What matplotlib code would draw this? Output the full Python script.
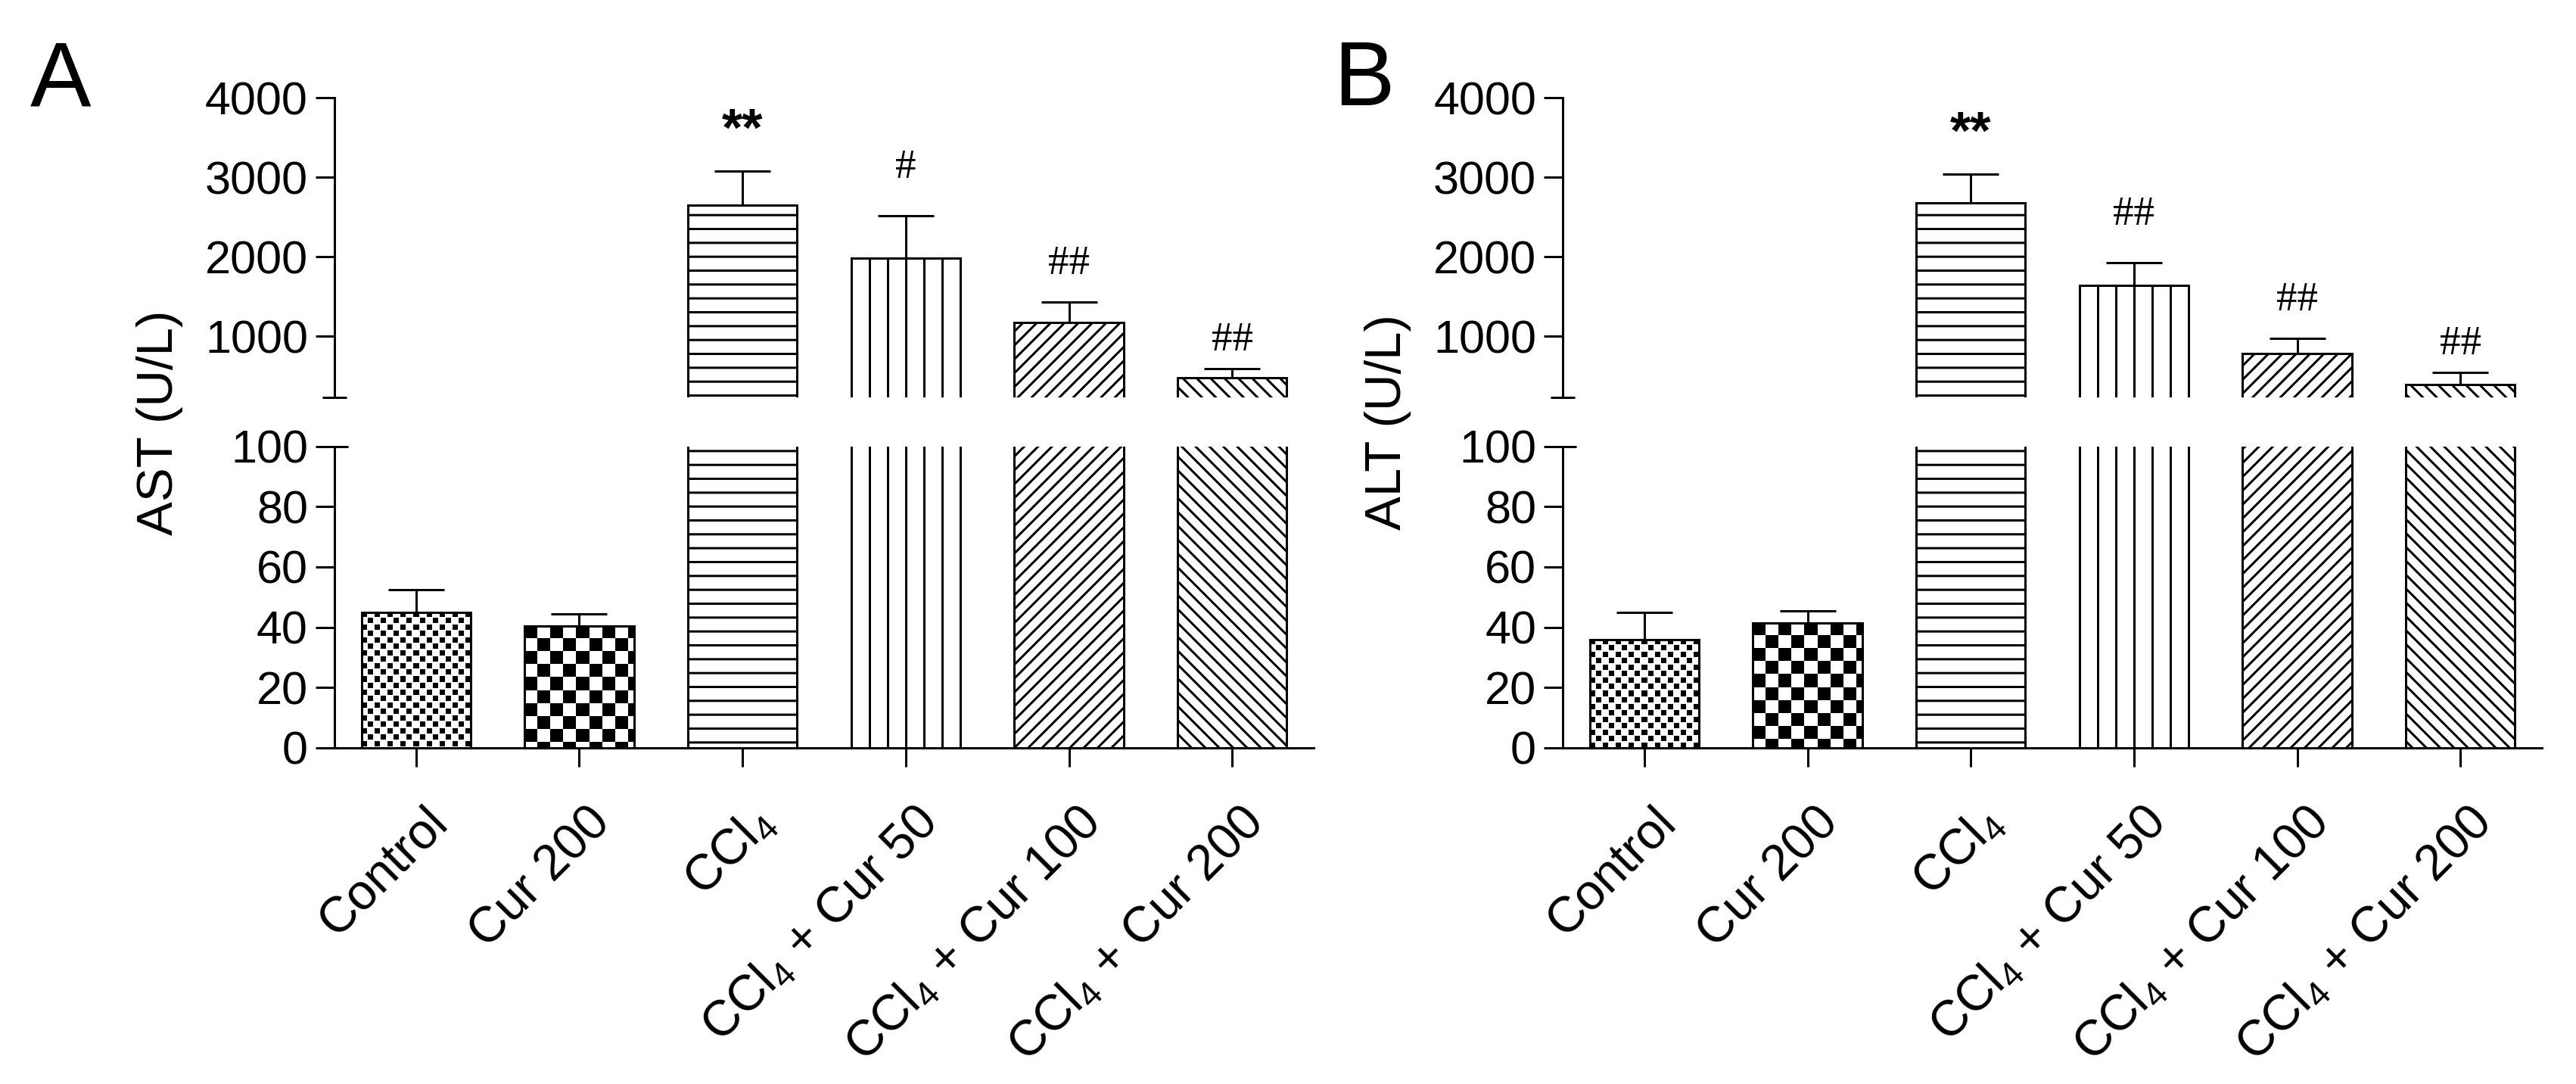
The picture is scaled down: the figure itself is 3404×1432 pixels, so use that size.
import matplotlib

matplotlib.use("Agg")

import matplotlib.pyplot as plt
import matplotlib.transforms as mtransforms
import numpy as np

# ---- data ----
groups = [
    "Control",
    "Cur 200",
    r"CCl$_\mathregular{4}$",
    r"CCl$_\mathregular{4}$ + Cur 50",
    r"CCl$_\mathregular{4}$ + Cur 100",
    r"CCl$_\mathregular{4}$ + Cur 200",
]
ast_mean = [45, 40.5, 2650, 1985, 1170, 480]
ast_sem = [7.5, 3.8, 425, 530, 260, 110]
alt_mean = [36, 41.5, 2680, 1640, 780, 395]
alt_sem = [8.8, 4.0, 360, 280, 190, 145]
ast_marks = ["", "", "**", "#", "##", "##"]
alt_marks = ["", "", "**", "##", "##", "##"]
upper_ticks = [1000, 2000, 3000, 4000]
lower_ticks = [0, 20, 40, 60, 80, 100]

# ---- style ----
DPI = 110
PT = 72.0 / DPI  # points per pixel
LW = 3 * PT
plt.rcParams["font.family"] = ["Liberation Sans", "DejaVu Sans"]
plt.rcParams["mathtext.fontset"] = "custom"
plt.rcParams["mathtext.rm"] = "Liberation Sans"
plt.rcParams["hatch.linewidth"] = LW
plt.rcParams["hatch.color"] = "black"

# fill style per bar: ("check", cell px, fill) / ("hatch", pattern) / ("vstrip", n)
fills = [
    ("check", 8.5, 0.78),
    ("check", 17.0, 1.0),
    ("hatch", "-"),
    ("vstrip", 6),
    ("hatch", "//"),
    ("hatch", "\\\\"),
]
mark_gap_px = [0, 0, 33, 50, 37, 24]
upper_floor = 230

W, H = 3404, 1432
fig = plt.figure(figsize=(W / DPI, H / DPI), dpi=DPI)
fig.patch.set_facecolor("white")


def fx(px):
    return px / W


def fy(px):
    return 1 - px / H


def checker(ax, bar, cell, fill):
    bb = bar.get_window_extent()
    w = max(int(round(bb.width)), 1)
    h = max(int(round(bb.height)), 1)
    yy, xx = np.mgrid[0:h, 0:w] + 0.5
    u = xx / cell
    v = yy / cell
    on = ((np.floor(u) + np.floor(v)) % 2 == 0) & (u % 1 < fill) & (v % 1 < fill)
    img = np.where(on, 0.0, 1.0)
    x0, y0 = bar.get_x(), bar.get_y()
    ax.imshow(
        img,
        cmap="gray",
        vmin=0,
        vmax=1,
        extent=(x0, x0 + bar.get_width(), y0, y0 + bar.get_height()),
        origin="upper",
        aspect="auto",
        interpolation="nearest",
        clip_path=bar,
        zorder=1,
    )


def draw_bars(ax, means, sems):
    x = np.arange(len(means))
    bars = ax.bar(x, means, width=0.668, facecolor="none", edgecolor="black",
                  linewidth=LW, zorder=2)
    for bar, style, m in zip(bars, fills, means):
        kind = style[0]
        if kind == "hatch":
            bar.set_hatch(style[1])
        elif kind == "check":
            if m <= ax.get_ylim()[1]:
                checker(ax, bar, style[1], style[2])
        elif kind == "vstrip":
            n = style[1]
            xs = bar.get_x() + bar.get_width() * np.arange(1, n) / n
            ax.vlines(xs, 0, m, color="black", linewidth=LW, zorder=2)
    ax.errorbar(x, means, yerr=[np.zeros(len(sems)), sems], fmt="none",
                ecolor="black", elinewidth=LW, capsize=37 * PT, capthick=LW,
                zorder=3)


def style_axis(ax):
    for side in ("top", "right"):
        ax.spines[side].set_visible(False)
    for side in ("left", "bottom"):
        ax.spines[side].set_linewidth(LW)
    ax.tick_params(axis="both", direction="out", length=25 * PT, width=LW,
                   labelsize=40, pad=10 * PT)


def panel(left_px, means, sems, marks, ylabel, letter, letter_px):
    width_frac = fx(1294)
    upper = fig.add_axes([fx(left_px), fy(525), width_frac, fy(129) - fy(525)])
    lower = fig.add_axes([fx(left_px), fy(988), width_frac, fy(589.5) - fy(988)])

    for ax in (upper, lower):
        ax.set_xlim(-0.5, len(means) - 0.5)
        ax.set_facecolor("none")
        style_axis(ax)
    upper.set_ylim(upper_floor, upper_ticks[-1])
    lower.set_ylim(lower_ticks[0], lower_ticks[-1])

    upper.spines["bottom"].set_visible(False)
    upper.tick_params(axis="x", bottom=False, labelbottom=False)
    upper.set_yticks(upper_ticks)
    lower.set_yticks(lower_ticks)

    draw_bars(upper, means, sems)
    draw_bars(lower, means, sems)

    # break marks on the y axis
    upper.plot([0], [0], transform=upper.transAxes, marker="_", ms=32 * PT,
               mew=LW, color="black", clip_on=False, zorder=4)
    lower.plot([0], [1], transform=lower.transAxes, marker="_", ms=36 * PT,
               mew=LW, color="black", clip_on=False, zorder=4)

    lower.set_xticks(np.arange(len(groups)))
    lower.set_xticklabels(groups, rotation=45, ha="right",
                          rotation_mode="anchor", fontsize=43)
    lower.tick_params(axis="x", pad=42 * PT)
    shift = mtransforms.ScaledTranslation(10 / DPI, 0, fig.dpi_scale_trans)
    for lab in lower.get_xticklabels():
        lab.set_transform(lab.get_transform() + shift)

    for i, mk in enumerate(marks):
        if not mk:
            continue
        if mk.startswith("*"):
            kw = dict(fontsize=46, fontweight="bold")
        else:
            kw = dict(fontsize=36, family=["Liberation Serif", "DejaVu Serif"])
        upper.annotate(mk, xy=(i, means[i] + sems[i]),
                       xytext=(0, mark_gap_px[i] * PT), textcoords="offset points",
                       ha="center", va="baseline", annotation_clip=False, **kw)

    fig.text(fx(left_px - 231), fy(558), ylabel, rotation=90, ha="center",
             va="center", fontsize=44)
    fig.text(fx(letter_px[0]), fy(letter_px[1]), letter, fontsize=79,
             ha="left", va="baseline")


panel(442, ast_mean, ast_sem, ast_marks, "AST (U/L)", "A", (40, 139))
panel(2065, alt_mean, alt_sem, alt_marks, "ALT (U/L)", "B", (1762, 139))

fig.savefig("out.png", dpi=DPI, facecolor="white")
plt.close(fig)
